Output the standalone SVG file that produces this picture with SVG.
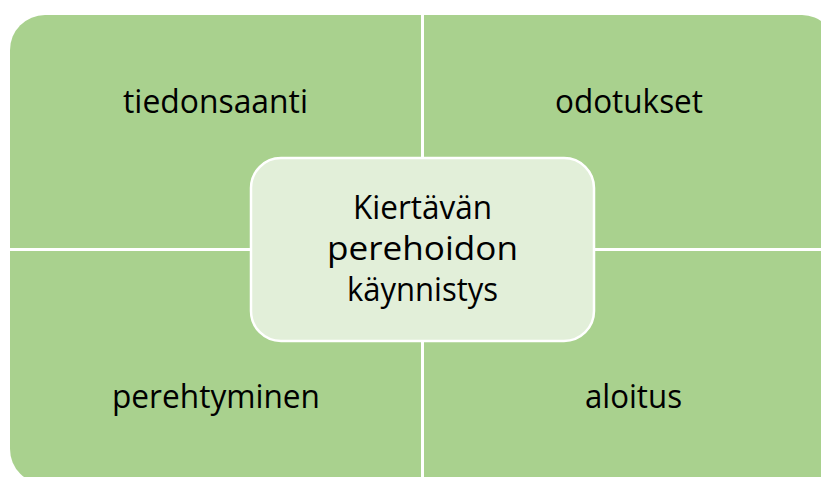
<svg xmlns="http://www.w3.org/2000/svg" width="821" height="477" viewBox="0 0 821 477">
  <style>
    .quad { fill: #a9d18e; }
    .center { fill: #e2efd9; stroke: #ffffff; stroke-width: 2.5; }
    .lbl { font-family: "Open Sans", "Liberation Sans", sans-serif; font-size: 32px; fill: #000000; text-anchor: middle; }
  </style>
  <rect width="821" height="477" fill="#ffffff"/>
  <g id="tiedonsaanti">
    <path class="quad" d="M10,248 V50 A35,35 0 0 1 45,15 H421 V248 Z"/>
    <text class="lbl" x="215.5" y="113" textLength="185" lengthAdjust="spacingAndGlyphs">tiedonsaanti</text>
  </g>
  <g id="odotukset">
    <path class="quad" d="M424,15 H802 A33,33 0 0 1 835,48 V248 H424 Z"/>
    <text class="lbl" x="629" y="113" textLength="148" lengthAdjust="spacingAndGlyphs">odotukset</text>
  </g>
  <g id="perehtyminen">
    <path class="quad" d="M10,251 H421 V484 H45 A35,35 0 0 1 10,449 Z"/>
    <text class="lbl" x="216" y="408" textLength="208" lengthAdjust="spacingAndGlyphs">perehtyminen</text>
  </g>
  <g id="aloitus">
    <path class="quad" d="M424,251 H835 V449 A35,35 0 0 1 800,484 H424 Z"/>
    <text class="lbl" x="633.5" y="408" textLength="97" lengthAdjust="spacingAndGlyphs">aloitus</text>
  </g>
  <g id="kaynnistys">
    <rect class="center" x="251" y="158" width="343" height="183" rx="30" ry="30"/>
    <text class="lbl" x="422.5" y="219" textLength="139" lengthAdjust="spacingAndGlyphs">Kiertävän</text>
    <text class="lbl" x="422.5" y="260" textLength="191" lengthAdjust="spacingAndGlyphs">perehoidon</text>
    <text class="lbl" x="422.5" y="301" textLength="151" lengthAdjust="spacingAndGlyphs">käynnistys</text>
  </g>
</svg>
